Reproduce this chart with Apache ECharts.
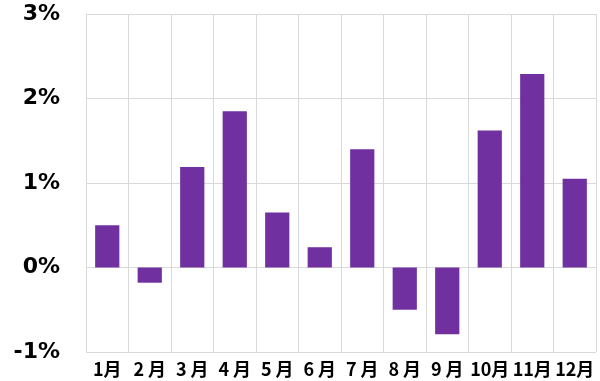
<!DOCTYPE html>
<html>
<head>
<meta charset="utf-8">
<script src="https://cdn.jsdelivr.net/npm/echarts@6/dist/echarts.min.js"></script>
<style>html,body{margin:0;padding:0;background:#fff}#c{width:600px;height:381px}</style>
</head>
<body>
<div id="c"></div>
<script>
const categories = ['1月', '2 月', '3 月', '4 月', '5 月', '6 月', '7 月', '8 月', '9 月', '10月', '11月', '12月'];
const values = [0.50, -0.18, 1.19, 1.85, 0.65, 0.24, 1.40, -0.50, -0.79, 1.62, 2.29, 1.05];
const yTicks = [-1, 0, 1, 2, 3];

const chart = echarts.init(document.getElementById('c'));
chart.setOption({
  animation: false,
  grid: { left: 86, right: 4, top: 14, bottom: 29, containLabel: false, outerBoundsMode: 'none' },
  xAxis: {
    type: 'category',
    data: categories,
    position: 'bottom',
    axisLine: { show: false },
    axisTick: { show: false },
    axisLabel: { interval: 0, margin: 8, color: '#000', fontWeight: 'bold', fontSize: 18, fontFamily: '"Noto Sans CJK JP", sans-serif' },
    splitLine: { show: true, interval: 0, lineStyle: { color: '#d9d9d9', width: 1 } }
  },
  yAxis: {
    type: 'value',
    min: yTicks[0], max: yTicks[yTicks.length - 1], interval: 1,
    axisLine: { show: true, lineStyle: { color: '#d9d9d9' } },
    axisTick: { show: false },
    axisLabel: { margin: 26, align: 'right', color: '#000', fontWeight: 'bold', fontSize: 22, fontFamily: '"DejaVu Sans", sans-serif', formatter: v => v + '%' },
    splitLine: { show: true, lineStyle: { color: '#d9d9d9', width: 1 } }
  },
  series: [{
    type: 'bar',
    data: values,
    barWidth: '57%',
    itemStyle: { color: '#7030A0' }
  }]
});
</script>
</body>
</html>
